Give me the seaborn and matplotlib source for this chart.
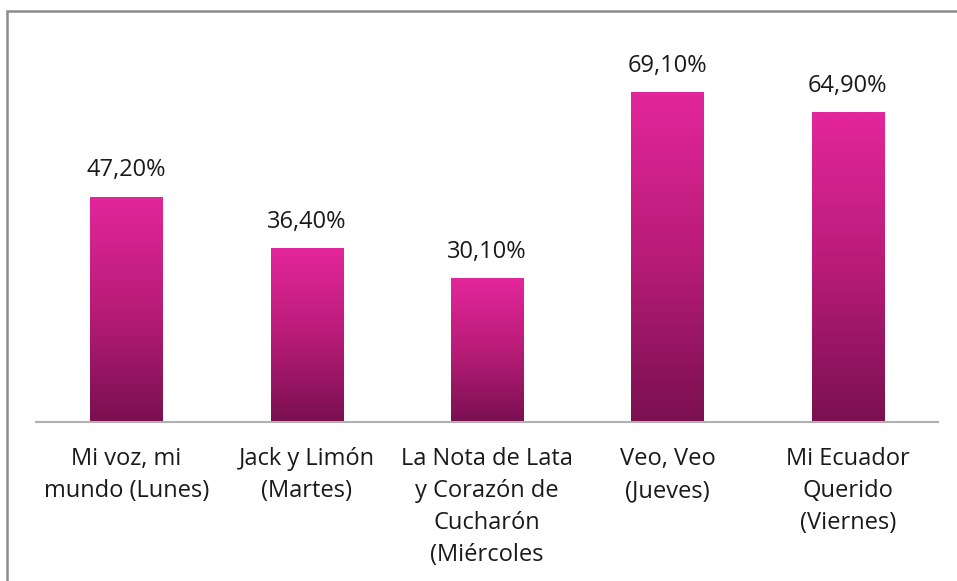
import numpy as np
import pandas as pd
import seaborn as sns
import matplotlib.pyplot as plt
from matplotlib.colors import LinearSegmentedColormap
from matplotlib.patches import Rectangle

programas = ["Mi voz, mi\nmundo (Lunes)", "Jack y Limón\n(Martes)",
             "La Nota de Lata\ny Corazón de\nCucharón\n(Miércoles",
             "Veo, Veo\n(Jueves)", "Mi Ecuador\nQuerido\n(Viernes)"]
porcentajes = [47.2, 36.4, 30.1, 69.1, 64.9]
etiquetas = ["47,20%", "36,40%", "30,10%", "69,10%", "64,90%"]

sns.set_style("white")
plt.rcParams['font.family'] = ['Open Sans', 'DejaVu Sans']

df = pd.DataFrame({'programa': programas, 'pct': porcentajes})

fig = plt.figure(figsize=(9.57, 5.81), dpi=100)
ax = fig.add_axes([36 / 957, 1 - 422 / 581, (938 - 36) / 957, 382 / 581])
sns.barplot(data=df, x='programa', y='pct', color='#c01e80', width=0.4,
            saturation=1, ax=ax)

# gradient fill for each bar
cmap = LinearSegmentedColormap.from_list('rosa', ['#7a1050', '#b81c78', '#e3269b'])
grad = np.linspace(0, 1, 256).reshape(-1, 1)
for p in ax.patches:
    x0, y0 = p.get_x(), p.get_y()
    w, h = p.get_width(), p.get_height()
    im = ax.imshow(grad, cmap=cmap, aspect='auto', origin='lower',
                   extent=[x0, x0 + w, y0, y0 + h], zorder=p.get_zorder() + 0.1)
    im.set_clip_path(p)
    p.set_edgecolor('#f0a8d0')
    p.set_linewidth(0.6)

for i, (v, t) in enumerate(zip(porcentajes, etiquetas)):
    ax.text(i, v + 3.0, t, ha='center', va='bottom', fontsize=17, color='#1a1a1a')

ax.set_xlim(-0.5, 4.5)
ax.set_ylim(0, 80)
ax.set_yticks([])
ax.set_xlabel('')
ax.set_ylabel('')
for s in ['top', 'right', 'left']:
    ax.spines[s].set_visible(False)
ax.spines['bottom'].set_color('#b0b0b0')
ax.spines['bottom'].set_linewidth(1.5)
ax.tick_params(axis='x', length=0, pad=18)
for lbl in ax.get_xticklabels():
    lbl.set_fontsize(17)
    lbl.set_color('#1a1a1a')
    lbl.set_va('top')
    lbl.set_linespacing(1.45)

# outer frame (only left and top visible in the crop)
fig.patches.append(Rectangle((6.5 / 957, -0.1), 1.2, 1.1 - 10.5 / 581,
                             transform=fig.transFigure, fill=False,
                             edgecolor='#8c8c8c', linewidth=1.8))

fig.savefig('out.png', dpi=100, facecolor='white')
